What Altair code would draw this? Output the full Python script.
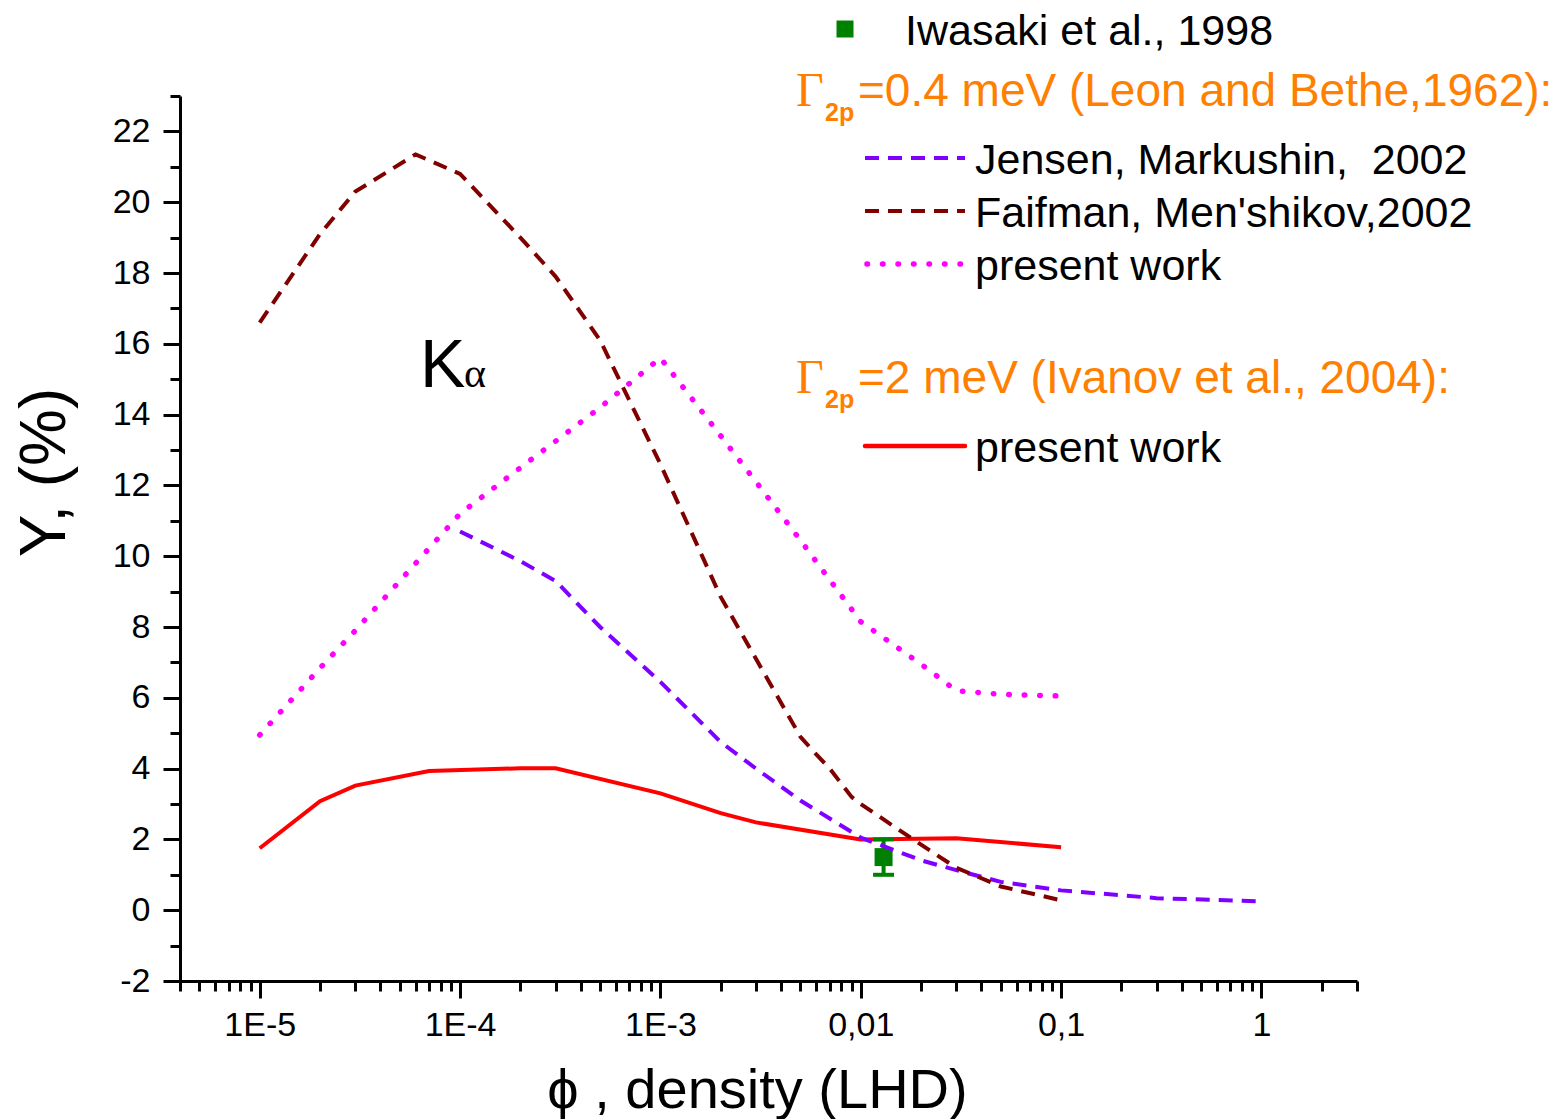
import altair as alt
import pandas as pd

# ---------------- data ----------------
red_x = [1e-5, 2e-5, 3e-5, 7e-5, 2e-4, 3e-4, 1e-3, 2e-3, 3e-3, 0.01, 0.03, 0.1]
red_y = [1.75, 3.08, 3.52, 3.93, 4.01, 4.01, 3.30, 2.74, 2.48, 2.00, 2.03, 1.78]

magenta_x = [1e-5, 2e-5, 3e-5, 5e-5, 1e-4, 2e-4, 3e-4, 5e-4, 1e-3, 2e-3, 3e-3,
             5e-3, 0.01, 0.02, 0.03, 0.05, 0.1]
magenta_y = [4.95, 6.84, 7.90, 9.30, 11.2, 12.5, 13.25, 14.2, 15.6, 13.4, 12.1,
             10.45, 8.15, 6.95, 6.2, 6.1, 6.05]

purple_x = [1e-4, 2e-4, 3e-4, 5e-4, 1e-3, 2e-3, 3e-3, 5e-3, 0.01, 0.02, 0.03,
            0.05, 0.1, 0.3, 1.0]
purple_y = [10.7, 9.86, 9.3, 8.0, 6.45, 4.75, 4.0, 3.1, 2.05, 1.41, 1.13,
            0.8, 0.56, 0.34, 0.25]

darkred_x = [1e-5, 2e-5, 3e-5, 6e-5, 1e-4, 2e-4, 3e-4, 5e-4, 1e-3, 2e-3, 3e-3,
             5e-3, 6e-3, 7e-3, 9e-3, 0.01, 0.02, 0.03, 0.05, 0.1]
darkred_y = [16.6, 19.1, 20.3, 21.35, 20.8, 19.0, 17.9, 16.1, 12.6, 8.85, 7.1,
             4.9, 4.4, 4.0, 3.2, 3.0, 1.85, 1.2, 0.67, 0.28]

exp_x = [0.013]
exp_y = [1.5]
exp_err = [0.5]

x_major_ticks = [1e-5, 1e-4, 1e-3, 1e-2, 1e-1, 1.0]
x_tick_labels = ["1E-5", "1E-4", "1E-3", "0,01", "0,1", "1"]
x_minor_ticks = [m * 10.0 ** e for e in range(-6, 1) for m in range(2, 10)
                 if 4e-6 * 0.999 <= m * 10.0 ** e <= 3.001]
y_major_ticks = list(range(-2, 23, 2))
y_minor_ticks = list(range(-1, 24, 2))

legend_iwasaki = "Iwasaki et al., 1998"
legend_head1 = "=0.4 meV (Leon and Bethe,1962):"
legend_head2 = "=2 meV (Ivanov et al., 2004):"
legend_jensen = "Jensen, Markushin,\u00a0 2002"
legend_faifman = "Faifman, Men'shikov,2002"
legend_present = "present work"

# ---------------- styling ----------------
W, H = 1177, 885
SANS = "Liberation Sans"
SERIF = "Liberation Serif"
ORANGE = "#FF8000"
C_RED, C_MAG, C_PUR, C_DRED, C_GRN = "#FF0000", "#FF00FF", "#7F00FF", "#800000", "#008000"
DASH = [14, 9]
DOT = [0.5, 15]

xscale = alt.Scale(type="log", domain=[4e-6, 3], nice=False)
yscale = alt.Scale(domain=[-2, 23], nice=False, zero=False)

lab_expr = ""
for v, t in zip(x_major_ticks, x_tick_labels):
    lab_expr += f"datum.value <= {v * 1.05} ? '{t}' : "
lab_expr += "''"

common = dict(grid=False, tickColor="black", domainColor="black", tickWidth=3,
              domainWidth=3, labelFont=SANS, labelFontSize=34, labelColor="black",
              titleFont=SANS, titleColor="black", titleFontWeight="normal",
              labelOverlap=False, labelFlush=False)

x_axis_major = alt.Axis(values=x_major_ticks, labelExpr=lab_expr, tickSize=17,
                        labelPadding=10, title="ϕ , density (LHD)", titleFontSize=56,
                        titleBaseline="alphabetic", titleY=126, titleX=577,
                        orient="bottom", **common)
x_axis_minor = alt.Axis(values=x_minor_ticks, tickSize=10, labels=False, domain=False,
                        title=None, orient="bottom", grid=False, tickWidth=3,
                        tickColor="black")
y_axis_major = alt.Axis(values=y_major_ticks, labelExpr="'' + datum.value", tickSize=17,
                        labelPadding=13, title="Y, (%)", titleFontSize=64,
                        titleBaseline="alphabetic", titleAngle=-90, titleX=-116,
                        titleY=376, titleAlign="center", orient="left", **common)
y_axis_minor = alt.Axis(values=y_minor_ticks, tickSize=10, labels=False, domain=False,
                        title=None, orient="left", grid=False, tickWidth=3,
                        tickColor="black")


def frame(xs, ys):
    return pd.DataFrame({"x": xs, "y": ys})


def line(xs, ys, color, width, dash=None, cap="butt", xa=None, ya=None):
    kw = dict(color=color, strokeWidth=width, strokeCap=cap, clip=False)
    if dash:
        kw["strokeDash"] = dash
    return alt.Chart(frame(xs, ys)).mark_line(**kw).encode(
        x=alt.X("x:Q", scale=xscale, axis=xa),
        y=alt.Y("y:Q", scale=yscale, axis=ya),
        order="x:Q",
    )


red = line(red_x, red_y, C_RED, 4, xa=x_axis_major, ya=y_axis_major)
magenta = line(magenta_x, magenta_y, C_MAG, 5.5, DOT, "round", xa=x_axis_minor, ya=y_axis_minor)
purple = line(purple_x, purple_y, C_PUR, 4, DASH)
darkred = line(darkred_x, darkred_y, C_DRED, 4, DASH)

exp_df = pd.DataFrame({"x": exp_x, "y": exp_y,
                       "lo": [a - b for a, b in zip(exp_y, exp_err)],
                       "hi": [a + b for a, b in zip(exp_y, exp_err)]})
stem = alt.Chart(exp_df).mark_rule(color=C_GRN, strokeWidth=4).encode(
    x=alt.X("x:Q", scale=xscale, axis=None),
    y=alt.Y("lo:Q", scale=yscale, axis=None), y2="hi:Q")
cap_lo = alt.Chart(exp_df).mark_tick(color=C_GRN, orient="horizontal", size=21,
                                     thickness=4, opacity=1).encode(
    x=alt.X("x:Q", scale=xscale, axis=None), y=alt.Y("lo:Q", scale=yscale, axis=None))
cap_hi = alt.Chart(exp_df).mark_tick(color=C_GRN, orient="horizontal", size=21,
                                     thickness=4, opacity=1).encode(
    x=alt.X("x:Q", scale=xscale, axis=None), y=alt.Y("hi:Q", scale=yscale, axis=None))
square = alt.Chart(exp_df).mark_square(color=C_GRN, size=324, opacity=1, filled=True).encode(
    x=alt.X("x:Q", scale=xscale, axis=None), y=alt.Y("y:Q", scale=yscale, axis=None))

one = pd.DataFrame({"k": [0]})


def text(t, x, y, size, color="black", font=SANS, weight="normal"):
    return alt.Chart(one).mark_text(align="left", baseline="alphabetic", font=font,
                                    fontSize=size, color=color, fontWeight=weight).encode(
        x=alt.value(x), y=alt.value(y), text=alt.value(t))


def sample(x1, x2, y, color, width, dash=None, cap="butt"):
    kw = dict(color=color, strokeWidth=width, strokeCap=cap)
    if dash:
        kw["strokeDash"] = dash
    return alt.Chart(one).mark_rule(**kw).encode(
        x=alt.value(x1), x2=alt.value(x2), y=alt.value(y))


OX, OY = 180, 96  # plot origin in the page
annots = [
    text("K", 420 - OX, 387 - OY, 68),
    text("α", 464 - OX, 387 - OY, 42, font=SERIF),
    alt.Chart(one).mark_square(color=C_GRN, size=289, opacity=1, filled=True).encode(
        x=alt.value(845 - OX), y=alt.value(29 - OY)),
    text(legend_iwasaki, 905 - OX, 45 - OY, 43),
    text("Γ", 796 - OX, 106 - OY, 48, ORANGE, SERIF),
    text("2p", 825 - OX, 121 - OY, 25, ORANGE, SANS, "bold"),
    text(legend_head1, 858 - OX, 106 - OY, 46, ORANGE),
    sample(865 - OX, 965 - OX, 158 - OY, C_PUR, 4, DASH),
    text(legend_jensen, 975 - OX, 174 - OY, 43),
    sample(865 - OX, 965 - OX, 211 - OY, C_DRED, 4, DASH),
    text(legend_faifman, 975 - OX, 227 - OY, 43),
    sample(867 - OX, 965 - OX, 264 - OY, C_MAG, 5.5, DOT, "round"),
    text(legend_present, 975 - OX, 280 - OY, 43),
    text("Γ", 796 - OX, 393 - OY, 48, ORANGE, SERIF),
    text("2p", 825 - OX, 408 - OY, 25, ORANGE, SANS, "bold"),
    text(legend_head2, 858 - OX, 393 - OY, 46, ORANGE),
    sample(865 - OX, 965 - OX, 446 - OY, C_RED, 4.5, None, "round"),
    text(legend_present, 975 - OX, 462 - OY, 43),
]

chart = alt.layer(red, magenta, stem, cap_lo, cap_hi, square, purple, darkred, *annots).resolve_axis(
    x="independent", y="independent"
).properties(
    width=W, height=H,
    autosize=alt.AutoSizeParams(type="none"),
    padding={"left": OX, "top": OY, "right": 1560 - OX - W, "bottom": 1119 - OY - H},
    background="white",
).configure_view(stroke=None)

chart.save("out.html", embed_options={"renderer": "svg", "actions": False})
